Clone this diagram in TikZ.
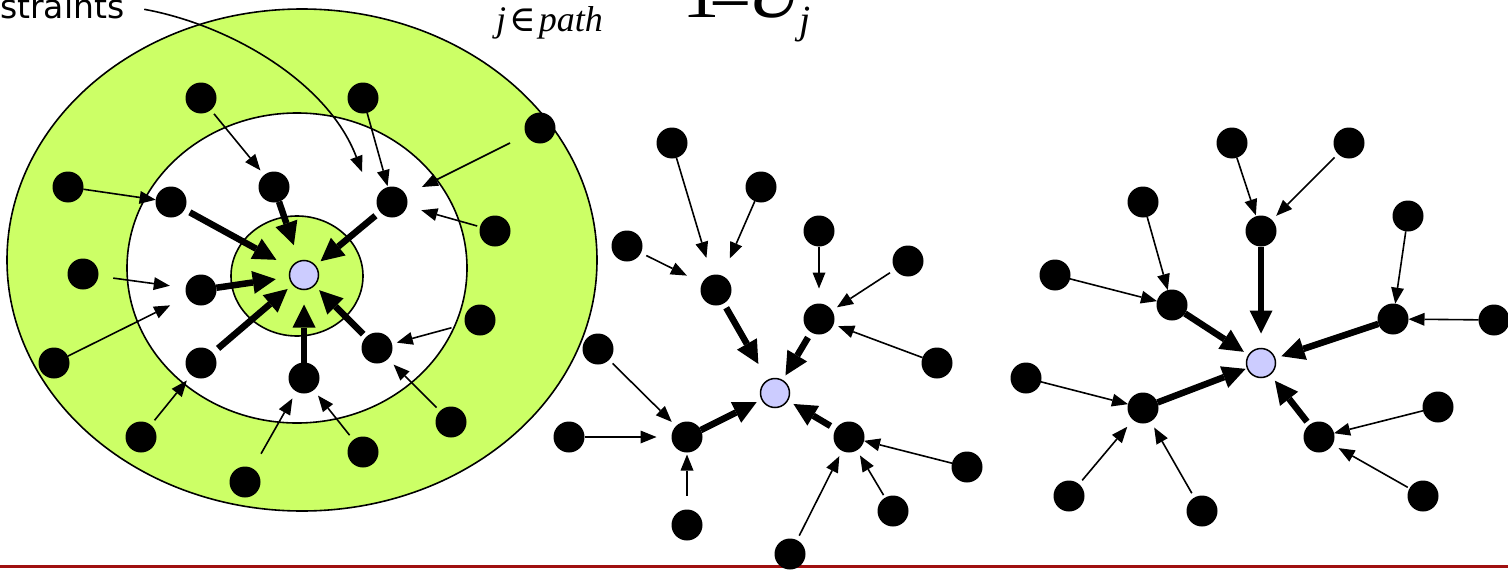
\documentclass[tikz,border=0pt]{standalone}
\usepackage{fontspec}
\usetikzlibrary{arrows.meta}
\newfontfamily\sansfnt{DejaVu Sans}
\newfontfamily\seriffnt{Liberation Serif}
\newfontfamily\symfnt{DejaVu Serif}
\definecolor{ringgreen}{HTML}{CCFF66}
\definecolor{rootblue}{HTML}{CCCCFF}
\definecolor{rulered}{RGB}{160,16,16}
\newcommand\myedge[5]{\draw[#1,shorten <=#4pt,shorten >=#5pt] (#2) -- (#3);}
\begin{document}
\begin{tikzpicture}[x=1pt,y=-1pt,
  dot/.style={circle,fill=black,minimum size=31pt,inner sep=0pt,outer sep=0pt},
  root/.style={circle,fill=rootblue,draw=black,line width=1.5pt,minimum size=29pt,inner sep=0pt,outer sep=0pt},
  leafarr/.style={line width=1.6pt,-{Triangle[length=16pt,width=13pt,line width=0pt]}},
  trunkarr/.style={line width=6.5pt,-{Triangle[length=23pt,width=23pt,line width=0pt]}},
  ring/.style={draw=black,line width=1.6pt}]
\useasboundingbox (0,0) rectangle (1508,570);
\fill[rulered] (0,565) rectangle (1508,568);
% rings
\filldraw[ring,fill=ringgreen] (302,260) ellipse [x radius=295pt,y radius=251pt];
\filldraw[ring,fill=white] (297,268) ellipse [x radius=170pt,y radius=155pt];
\filldraw[ring,fill=ringgreen] (297,276) ellipse [x radius=66pt,y radius=60pt];
% texts
\node[anchor=base west,inner sep=0pt,font=\sansfnt\fontsize{33}{33}\selectfont] (lbl) at (0,18) {straints};
\node[anchor=base west,inner sep=0pt,font=\seriffnt\fontsize{36}{36}\selectfont] (sub) at (496,31) {\textit{j}\hspace{3pt}{\symfnt ∈}\hspace{3pt}\textit{path}};
\node[anchor=base west,inner sep=0pt,font=\seriffnt\fontsize{75}{75}\selectfont] (den) at (682,17) {1\kern-10pt\raisebox{-11pt}{−}\kern-5pt\textit{U}\kern-6pt\raisebox{-17pt}{\fontsize{40}{40}\selectfont\textit{j}}};
\coordinate (ptr) at (362,172);
\draw[leafarr,shorten <=20pt] (lbl.east) .. controls (230,25) and (328,82) .. (ptr);
% left diagram
\node[root] (C) at (304,275) {};
\node[dot] (A1) at (171,202) {};
\node[dot] (A2) at (274,187) {};
\node[dot] (A3) at (392,202) {};
\node[dot] (A4) at (201,290) {};
\node[dot] (A5) at (201,363) {};
\node[dot] (A6) at (304,378) {};
\node[dot] (A7) at (377,348) {};
\node[dot] (B1) at (201,98) {};
\node[dot] (B2) at (363,98) {};
\node[dot] (B3) at (540,128) {};
\node[dot] (B4) at (68,187) {};
\node[dot] (B5) at (495,231) {};
\node[dot] (B6) at (83,274) {};
\node[dot] (B7) at (480,320) {};
\node[dot] (B8) at (54,363) {};
\node[dot] (B9) at (141,437) {};
\node[dot] (B10) at (451,422) {};
\node[dot] (B11) at (363,452) {};
\node[dot] (B12) at (245,482) {};
\myedge{leafarr}{B1}{A2}{5}{6}
\myedge{leafarr}{B2}{A3}{0}{1}
\myedge{leafarr}{B3}{A3}{18}{18}
\myedge{leafarr}{B5}{A3}{3}{15}
\myedge{leafarr}{B4}{A1}{0}{0}
\myedge{leafarr}{B6}{A4}{15}{16}
\myedge{leafarr}{B8}{A4}{0}{19}
\myedge{leafarr}{B9}{A5}{6}{7}
\myedge{leafarr}{B12}{A6}{17}{8}
\myedge{leafarr}{B11}{A6}{6}{7}
\myedge{leafarr}{B10}{A7}{5}{8}
\myedge{leafarr}{B7}{A7}{14}{5}
\myedge{trunkarr}{A1}{C}{6}{17}
\myedge{trunkarr}{A2}{C}{0}{17}
\myedge{trunkarr}{A3}{C}{6}{7}
\myedge{trunkarr}{A4}{C}{0}{14}
\myedge{trunkarr}{A5}{C}{7}{7}
\myedge{trunkarr}{A6}{C}{0}{15}
\myedge{trunkarr}{A7}{C}{4}{7}
% middle diagram
\node[root] (M0) at (775,393) {};
\node[dot] (M1) at (716,290) {};
\node[dot] (M2) at (819,319) {};
\node[dot] (M3) at (687,437) {};
\node[dot] (M4) at (849,437) {};
\node[dot] (M1a) at (672,143) {};
\node[dot] (M1b) at (761,187) {};
\node[dot] (M1c) at (627,246) {};
\node[dot] (M2a) at (819,231) {};
\node[dot] (M2b) at (908,261) {};
\node[dot] (M2c) at (937,363) {};
\node[dot] (M3a) at (598,349) {};
\node[dot] (M3b) at (569,437) {};
\node[dot] (M3c) at (687,525) {};
\node[dot] (M4a) at (967,467) {};
\node[dot] (M4b) at (893,511) {};
\node[dot] (M4c) at (790,554) {};
\myedge{leafarr}{M1a}{M1}{0}{18}
\myedge{leafarr}{M1b}{M1}{0}{19}
\myedge{leafarr}{M1c}{M1}{6}{17}
\myedge{leafarr}{M2a}{M2}{0}{15}
\myedge{leafarr}{M2b}{M2}{6}{6}
\myedge{leafarr}{M2c}{M2}{0}{5}
\myedge{leafarr}{M3a}{M3}{5}{6}
\myedge{leafarr}{M3b}{M3}{0}{15}
\myedge{leafarr}{M3c}{M3}{14}{2}
\myedge{leafarr}{M4a}{M4}{0}{0}
\myedge{leafarr}{M4b}{M4}{3}{6}
\myedge{leafarr}{M4c}{M4}{5}{6}
\myedge{trunkarr}{M1}{M0}{5}{19}
\myedge{trunkarr}{M2}{M0}{6}{6}
\myedge{trunkarr}{M3}{M0}{0}{6}
\myedge{trunkarr}{M4}{M0}{6}{7}
% right diagram
\node[root] (R0) at (1261,363) {};
\node[dot] (R1) at (1261,231) {};
\node[dot] (R2) at (1172,305) {};
\node[dot] (R3) at (1393,319) {};
\node[dot] (R4) at (1143,408) {};
\node[dot] (R5) at (1319,437) {};
\node[dot] (R1a) at (1232,143) {};
\node[dot] (R1b) at (1349,143) {};
\node[dot] (R2a) at (1143,202) {};
\node[dot] (R2b) at (1055,275) {};
\node[dot] (R3a) at (1408,216) {};
\node[dot] (R3b) at (1494,320) {};
\node[dot] (R4a) at (1026,378) {};
\node[dot] (R4b) at (1069,496) {};
\node[dot] (R4c) at (1202,511) {};
\node[dot] (R5a) at (1438,407) {};
\node[dot] (R5b) at (1423,496) {};
\myedge{leafarr}{R1a}{R1}{0}{1}
\myedge{leafarr}{R1b}{R1}{5}{6}
\myedge{leafarr}{R2a}{R2}{0}{0}
\myedge{leafarr}{R2b}{R2}{0}{0}
\myedge{leafarr}{R3a}{R3}{0}{0}
\myedge{leafarr}{R3b}{R3}{0}{0}
\myedge{leafarr}{R4a}{R4}{0}{0}
\myedge{leafarr}{R4b}{R4}{5}{9}
\myedge{leafarr}{R4c}{R4}{5}{7}
\myedge{leafarr}{R5a}{R5}{0}{0}
\myedge{leafarr}{R5b}{R5}{2}{7}
\myedge{trunkarr}{R1}{R0}{0}{15}
\myedge{trunkarr}{R2}{R0}{0}{6}
\myedge{trunkarr}{R3}{R0}{0}{7}
\myedge{trunkarr}{R4}{R0}{0}{2}
\myedge{trunkarr}{R5}{R0}{4}{8}
\end{tikzpicture}
\end{document}
